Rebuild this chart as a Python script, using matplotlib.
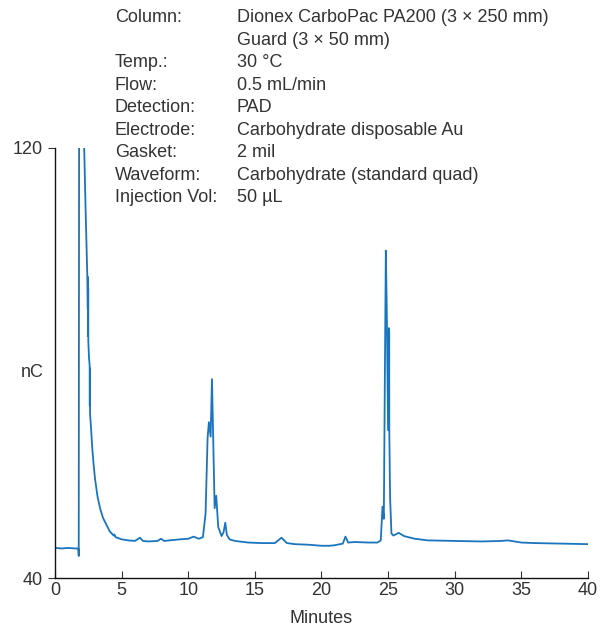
import numpy as np
from matplotlib import pyplot as plt

# -----------------------------------------------
# DATA

time_min = [0.0, 0.5, 1.0, 1.5, 1.75, 1.78, 1.82, 2.15, 2.17, 2.3, 2.42,
            2.46, 2.47, 2.48, 2.49, 2.50, 2.55, 2.60, 2.61, 2.62, 2.63,
            2.7, 2.8, 2.9, 3.0, 3.2, 3.4, 3.6, 3.8, 4.1, 4.4, 4.45, 4.55,
            5.0, 5.5, 6.0, 6.37, 6.6, 7.0, 7.7, 7.95, 8.2, 9.0, 9.4, 10.0,
            10.4, 10.8, 11.1, 11.3, 11.45, 11.55, 11.68, 11.78, 11.88, 11.98,
            12.1, 12.25, 12.5, 12.65, 12.78, 12.9, 13.1, 13.5, 14.5, 15.5,
            16.5, 17.0, 17.4, 18.0, 19.0, 20.0, 20.6, 21.0, 21.6, 21.8, 22.0,
            22.5, 23.5, 24.2, 24.45, 24.58, 24.68, 24.75, 24.83, 24.9, 25.0,
            25.06, 25.07, 25.08, 25.09, 25.15, 25.25, 25.4, 25.8, 26.2, 27.0,
            28.0, 30.0, 32.0, 33.5, 34.0, 35.0, 36.0, 38.0, 40.0]
signal_nC = [45.6, 45.5, 45.6, 45.5, 45.5, 44.1, 160.0, 160.0, 122.0, 108.0, 96.5,
             90.0, 96.0, 85.0, 94.0, 84.0, 81.0, 79.5, 72.0, 79.0, 70.5,
             68.0, 64.0, 61.0, 58.5, 55.0, 52.8, 51.2, 50.2, 48.7, 47.9, 48.1, 47.6,
             47.2, 47.0, 46.9, 47.5, 46.9, 46.8, 46.9, 47.3, 46.9, 47.1, 47.2, 47.3,
             47.7, 47.3, 47.6, 52.0, 66.0, 69.0, 66.3, 77.0, 65.0, 53.0,
             55.3, 49.5, 47.8, 48.5, 50.3, 48.0, 47.2, 46.9, 46.6, 46.5,
             46.5, 47.5, 46.5, 46.3, 46.2, 46.0, 46.0, 46.1, 46.4, 47.7, 46.6,
             46.7, 46.6, 46.6, 47.0, 53.3, 51.0, 75.0, 100.9, 90.0, 67.5,
             86.5, 68.0, 86.0, 67.5, 55.0, 48.3, 47.9, 48.4, 47.8, 47.3,
             47.0, 46.9, 46.8, 46.9, 47.0, 46.6, 46.5, 46.4, 46.3]

x_ticks = [0, 5, 10, 15, 20, 25, 30, 35, 40]
y_ticks = [40, 120]

conditions = ["Column:", "", "Temp.:", "Flow:", "Detection:", "Electrode:",
              "Gasket:", "Waveform:", "Injection Vol:"]
settings = ["Dionex CarboPac PA200 (3 \u00d7 250 mm)", "Guard (3 \u00d7 50 mm)",
            "30 \u00b0C", "0.5 mL/min", "PAD", "Carbohydrate disposable Au",
            "2 mil", "Carbohydrate (standard quad)", "50 \u00b5L"]

# -----------------------------------------------
# PLOT

plt.rcParams['font.family'] = ['Liberation Sans', 'DejaVu Sans']
text_color = '#333333'

fig = plt.figure(figsize=(6.08, 6.34), dpi=100)
ax = fig.add_axes([0.0905, 0.0883, 0.8765, 0.6783])
ax.plot(time_min, signal_nC, color='#1a75bf', lw=1.3)

ax.set_xlim(0, 40)
ax.set_ylim(40, 120)
ax.set_xticks(x_ticks)
ax.set_yticks(y_ticks)
ax.tick_params(axis='x', direction='in', length=5, labelsize=13,
               colors=text_color, pad=3)
ax.tick_params(axis='y', direction='out', length=5, labelsize=13,
               colors=text_color)
for s in ['top', 'right']:
  ax.spines[s].set_visible(False)
for s in ['left', 'bottom']:
  ax.spines[s].set_color('#111111')
  ax.spines[s].set_linewidth(1.0)

ax.set_xlabel('Minutes', fontsize=13, color=text_color, labelpad=8)
ax.set_ylabel('nC', fontsize=13, color=text_color, rotation=0,
              ha='right', va='center')
ax.yaxis.set_label_coords(-0.022, 0.477)

# chromatographic conditions block
for n in range(len(conditions)):
  y = 1 - (18 + 22.45 * n) / 634
  fig.text(115 / 608, y, conditions[n], fontsize=13, color=text_color,
           va='center', ha='left')
  fig.text(237 / 608, y, settings[n], fontsize=13, color=text_color,
           va='center', ha='left')

fig.savefig('out.png', dpi=100)
